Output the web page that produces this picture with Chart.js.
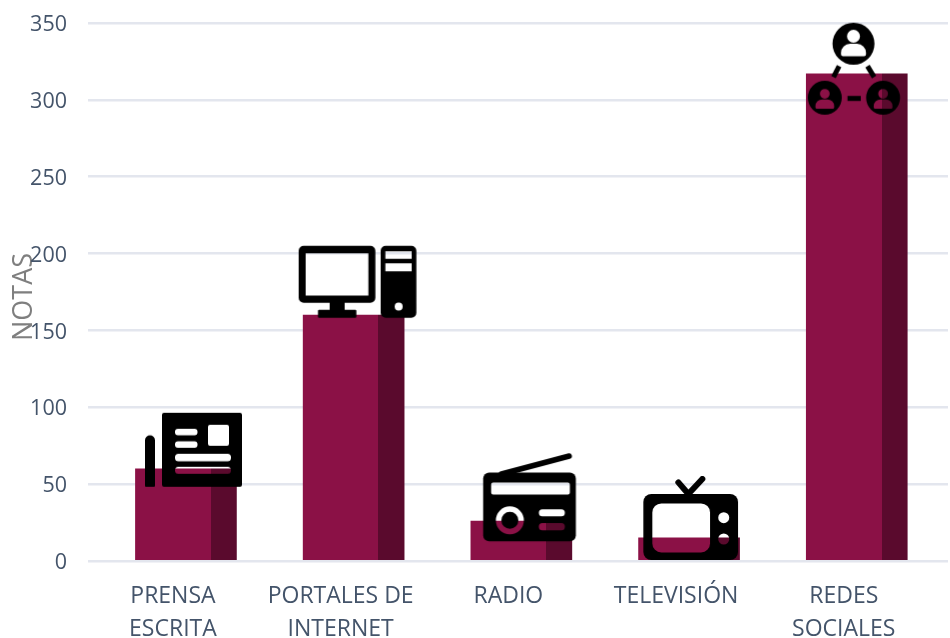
<!DOCTYPE html>
<html><head><meta charset="utf-8">
<style>html,body{margin:0;padding:0;background:#fff;overflow:hidden}canvas{display:block}</style>
<script src="https://cdn.jsdelivr.net/npm/chart.js@4"></script></head>
<body><canvas id="c" width="950" height="638"></canvas>
<script>
const categories = [["PRENSA","ESCRITA"],["PORTALES DE","INTERNET"],["RADIO"],["TELEVISIÓN"],["REDES","SOCIALES"]];
const values = [60,160,26,15,317];
const yTicks = [0,50,100,150,200,250,300,350];
const axisTitle = "NOTAS";

function rr(c,x,y,w,h,r){c.roundRect(x,y,w,h,r);}
function circ(c,x,y,r){c.moveTo(x+r,y);c.arc(x,y,r,0,Math.PI*2);c.closePath();}
function seg(c,x1,y1,x2,y2,w,cap){c.save();c.lineWidth=w;c.lineCap=cap||'round';c.strokeStyle='#000';c.beginPath();c.moveTo(x1,y1);c.lineTo(x2,y2);c.stroke();c.restore();}
function icon(hw,hh,solid,holes,extra){
  const cv=document.createElement('canvas');cv.width=hw*2;cv.height=hh*2;
  const c=cv.getContext('2d');c.translate(hw,hh);c.fillStyle='#000';
  c.beginPath();solid(c);c.fill();
  c.globalCompositeOperation='destination-out';c.beginPath();holes(c);c.fill();
  c.globalCompositeOperation='source-over';c.fillStyle='#000';
  if(extra)extra(c);
  return cv;
}
const person=(c,x,y,s)=>{circ(c,x,y-8*s,6.5*s);c.roundRect(x-12.5*s,y-0.5*s,25*s,12.5*s,[9*s,9*s,2*s,2*s]);};
const icons=[
 icon(60,60,c=>{rr(c,-24,-56,80,74,2);c.roundRect(-41,-33.5,10,51.5,[5,5,1,1]);},
   c=>{rr(c,-11,-40,22.5,6.5,3);rr(c,-11,-27.5,22.5,6.5,3);rr(c,22,-44,21,21,2);rr(c,-11,-15,56,7.5,3.5);rr(c,-11,-2,56,7,3.5);}),
 icon(66,72,c=>{rr(c,-55,-69.2,76.7,57,5);c.rect(-24,-13,15,9);rr(c,-35.7,-5.2,38.4,8,1);rr(c,27,-69.2,35.7,72,5);},
   c=>{c.rect(-48,-61.8,62.7,42.3);c.rect(31.7,-63.8,26.3,7.6);c.rect(31.7,-51.8,26.3,8);circ(c,45,-8.5,4);}),
 icon(60,70,c=>{rr(c,-38.2,-48.4,92.7,68.7,6);},
   c=>{rr(c,-30.2,-38.4,78.7,12,2);circ(c,-11.5,-0.7,14);rr(c,17.5,-11.7,26,7,3.5);rr(c,17.5,2,26,7.3,3.5);},
   c=>{seg(c,-20,-47,47.8,-65,5.5);c.beginPath();circ(c,-11.5,-0.7,8.5);c.fill();}),
 icon(50,62,c=>{rr(c,-45.7,-44,94.7,66,8);},
   c=>{rr(c,-36.7,-34.6,57.7,49,9);circ(c,34.7,-20.3,5.5);circ(c,34.7,1,5.5);},
   c=>{seg(c,-0.7,-44,-10.7,-55.6,6);seg(c,-0.7,-44,13.3,-59,6);}),
 icon(50,55,c=>{circ(c,-3.3,-30,21);circ(c,-32,24,17);circ(c,26.3,24,17);},
   c=>{person(c,-3.3,-29.5,1);person(c,-32,26,0.75);person(c,26.3,26,0.75);},
   c=>{seg(c,-17.7,-7.6,-23.3,3.4,5,'butt');seg(c,10.7,-7.6,17.3,3.4,5,'butt');seg(c,-9.3,24.7,4,24.7,5,'butt');})
];

const barW=101, darkFrom=0.745;
function twoTone(ctx){
  const cx=ctx.chart.scales.x?ctx.chart.scales.x.getPixelForValue(ctx.dataIndex):NaN;
  if(!Number.isFinite(cx))return '#8b1146';
  const l=cx-barW/2;
  const g=ctx.chart.ctx.createLinearGradient(l,0,l+barW,0);
  g.addColorStop(0,'#8b1146');g.addColorStop(darkFrom,'#8b1146');
  g.addColorStop(darkFrom,'#5a0a2d');g.addColorStop(1,'#5a0a2d');
  return g;
}
function noPad(s){s.paddingTop=s.paddingBottom=s.paddingLeft=s.paddingRight=0;}
function shiftTitle(s){
  if(s._titleShifted)return;
  s._titleShifted=true;
  const draw=s.drawTitle;
  s.drawTitle=function(){const c=this.ctx;c.save();c.translate(0,5);draw.apply(this,arguments);c.restore();};
}
const pts=values.map((v,i)=>({x:i,y:v}));
new Chart(document.getElementById('c'),{
 data:{datasets:[
  {type:'bar',data:pts,backgroundColor:twoTone,barThickness:barW,order:2},
  {type:'line',data:pts,showLine:false,pointStyle:icons,pointRadius:10,clip:false,order:1}
 ]},
 options:{responsive:false,animation:false,
  layout:{autoPadding:false,padding:{top:23,right:2,left:0,bottom:0}},
  plugins:{legend:{display:false},tooltip:{enabled:false}},
  scales:{
   x:{type:'linear',bounds:'data',offset:false,min:-0.584,max:4.544,
     afterBuildTicks:s=>{s.ticks=categories.map((_,i)=>({value:i}));},
     afterFit:s=>{s.height=77;noPad(s);},
     grid:{display:false},border:{display:false},
     ticks:{autoSkip:false,maxRotation:0,padding:10.5,labelOffset:-13,color:'#44546a',
       font:{family:'"Open Sans"',size:23,lineHeight:'33px'},
       callback:(v,i)=>categories[i]}},
   y:{min:0,max:350,
     afterBuildTicks:s=>{s.ticks=yTicks.map(v=>({value:v}));},
     afterFit:s=>{s.width=88;noPad(s);shiftTitle(s);},
     grid:{color:'#e3e6ee',lineWidth:2.5,drawTicks:false},border:{display:false},
     ticks:{padding:21,labelOffset:2,color:'#44546a',font:{family:'"Open Sans"',size:21.5}},
     title:{display:true,text:axisTitle,color:'#7f7f7f',padding:{top:8,bottom:0},font:{family:'"Open Sans"',size:27,weight:'normal'}}}
  }
 }
});
</script></body></html>
